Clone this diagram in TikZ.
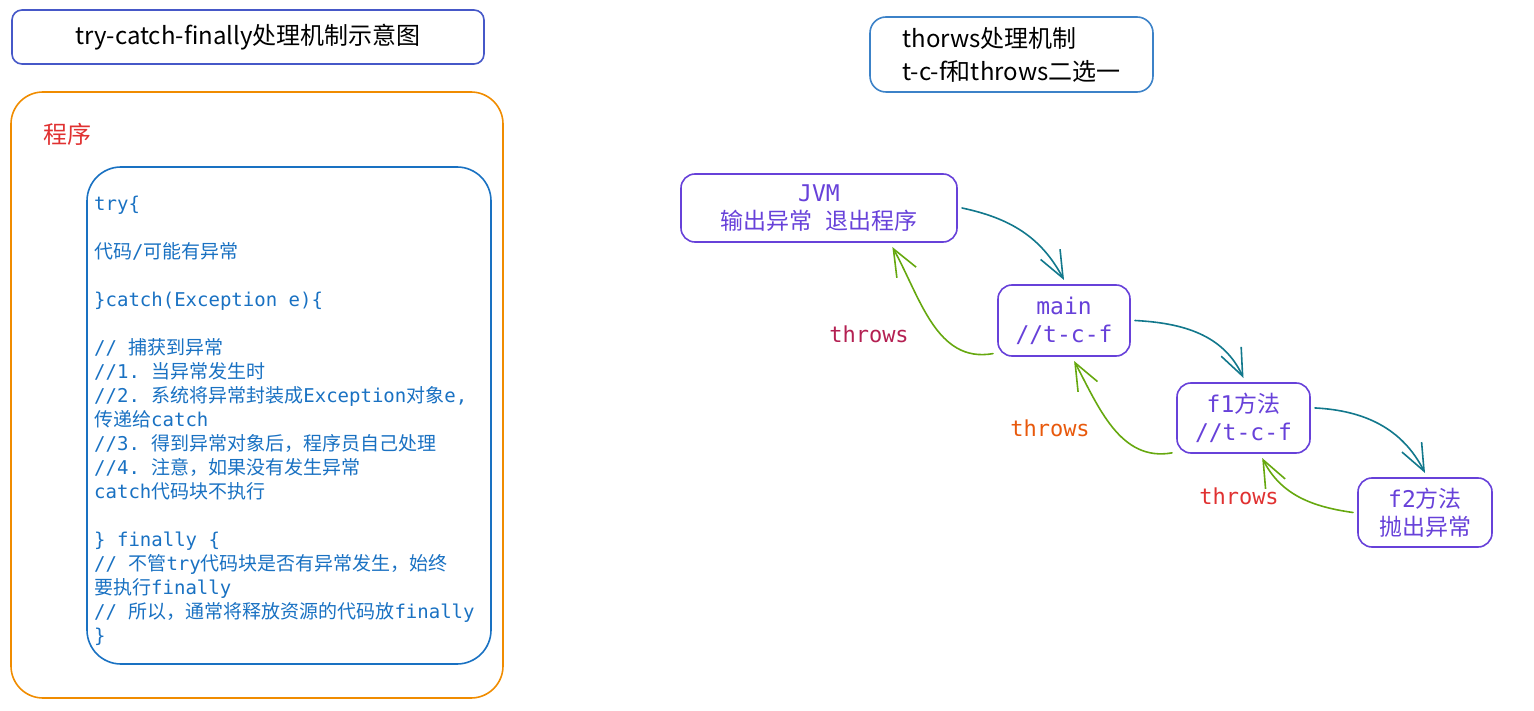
\documentclass[tikz,border=0pt]{standalone}
\usepackage{fontspec}
\usepackage{xcolor}
\usetikzlibrary{arrows.meta}
\setmonofont{DejaVu Sans Mono}
\newfontfamily\cjkfont{Noto Sans CJK SC}
\newcommand{\cn}[1]{{\cjkfont #1}}
\definecolor{titreblue}{RGB}{70,88,200}
\definecolor{cadreorange}{RGB}{240,140,0}
\definecolor{codeblue}{RGB}{25,113,194}
\definecolor{boxblue}{RGB}{60,130,200}
\definecolor{violet}{RGB}{103,65,217}
\definecolor{sarcelle}{RGB}{18,120,140}
\definecolor{vert}{RGB}{102,168,15}
\definecolor{rougeprog}{RGB}{224,49,49}
\definecolor{throwsa}{RGB}{180,32,82}
\definecolor{throwsb}{RGB}{232,89,12}
\definecolor{throwsc}{RGB}{224,49,49}

\begin{document}
\begin{tikzpicture}[x=1pt,y=-1pt,
	boite/.style={draw,rounded corners=#1,line width=1.6pt,inner sep=0pt},
	methode/.style={boite=14pt,draw=violet,text=violet,align=center,outer sep=5pt,
		font=\ttfamily\fontsize{23}{28}\selectfont},
	fleche/.style={line width=1.6pt,line cap=round,line join=round,
		-{Straight Barb[length=27pt,width=22pt,line width=1.6pt]}},
	lanceur/.style={font=\ttfamily\fontsize{22}{26}\selectfont}]
	\useasboundingbox (0,0) rectangle (1534,711);
	% partie gauche : try-catch-finally
	\node[boite=10pt,draw=titreblue,minimum width=472pt,minimum height=54pt,
		font=\cjkfont\fontsize{24}{28}\selectfont] (titre) at (248,37) {try-catch-finally处理机制示意图};
	\node[boite=32pt,draw=cadreorange,minimum width=492pt,minimum height=606pt] (prog) at (257,395) {};
	\node[anchor=west,text=rougeprog,font=\cjkfont\fontsize{24}{28}\selectfont] (progtxt) at (40,134) {程序};
	\node[boite=34pt,draw=codeblue,minimum width=404pt,minimum height=497pt] (bloc) at (289,415.5) {};
	\node[anchor=north west,inner sep=0pt,align=left,text=codeblue,
		font=\ttfamily\fontsize{19}{24}\selectfont] (code) at (94,196) {try\{\\[24pt]
		\cn{代码}/\cn{可能有异常}\\[24pt]
		\}catch(Exception e)\{\\[24pt]
		//\ \cn{捕获到异常}\\
		//1. \cn{当异常发生时}\\
		//2. \cn{系统将异常封装成}Exception\cn{对象}e,\\
		\cn{传递给}catch\\
		//3. \cn{得到异常对象后，程序员自己处理}\\
		//4. \cn{注意，如果没有发生异常}\\
		catch\cn{代码块不执行}\\[24pt]
		\} finally \{\\
		//\ \cn{不管}try\cn{代码块是否有异常发生，始终}\\
		\cn{要执行}finally\\
		//\ \cn{所以，通常将释放资源的代码放}finally\\
		\}};
	% partie droite : throws
	\node[boite=16pt,draw=boxblue,minimum width=283pt,minimum height=75pt,align=left,
		font=\cjkfont\fontsize{24}{33}\selectfont] (throwsbox) at (1011.5,54.5) {thorws处理机制\\t-c-f和throws二选一};
	\node[methode,minimum width=276pt,minimum height=68pt] (jvm) at (819,208) {JVM\\\cn{输出异常}\ \cn{退出程序}};
	\node[methode,minimum width=132pt,minimum height=71pt] (main) at (1064,320.5) {main\\//t-c-f};
	\node[methode,minimum width=133pt,minimum height=70pt] (fa) at (1243.5,418) {f1\cn{方法}\\//t-c-f};
	\node[methode,minimum width=134pt,minimum height=69pt] (fb) at (1425,512.5) {f2\cn{方法}\\\cn{抛出异常}};
	\draw[fleche,draw=sarcelle] (jvm.east) to[out=-12,in=118] (main.north); % appels
	\draw[fleche,draw=sarcelle] (main.east) to[out=-3,in=115] (fa.north);
	\draw[fleche,draw=sarcelle] (fa.8) to[out=-3,in=117] (fb.north);
	\draw[fleche,draw=vert] (main.205) to[out=190,in=-61] (jvm.-28); % remontée des exceptions
	\draw[fleche,draw=vert] (fa.206) to[out=190,in=-62] (main.-76);
	\draw[fleche,draw=vert] (fb.west) to[out=172,in=-63] (fa.-65);
	\node[lanceur,text=throwsa] (tha) at (869,334) {throws};
	\node[lanceur,text=throwsb] (thb) at (1050,428) {throws};
	\node[lanceur,text=throwsc] (thc) at (1239,496) {throws};
\end{tikzpicture}
\end{document}
